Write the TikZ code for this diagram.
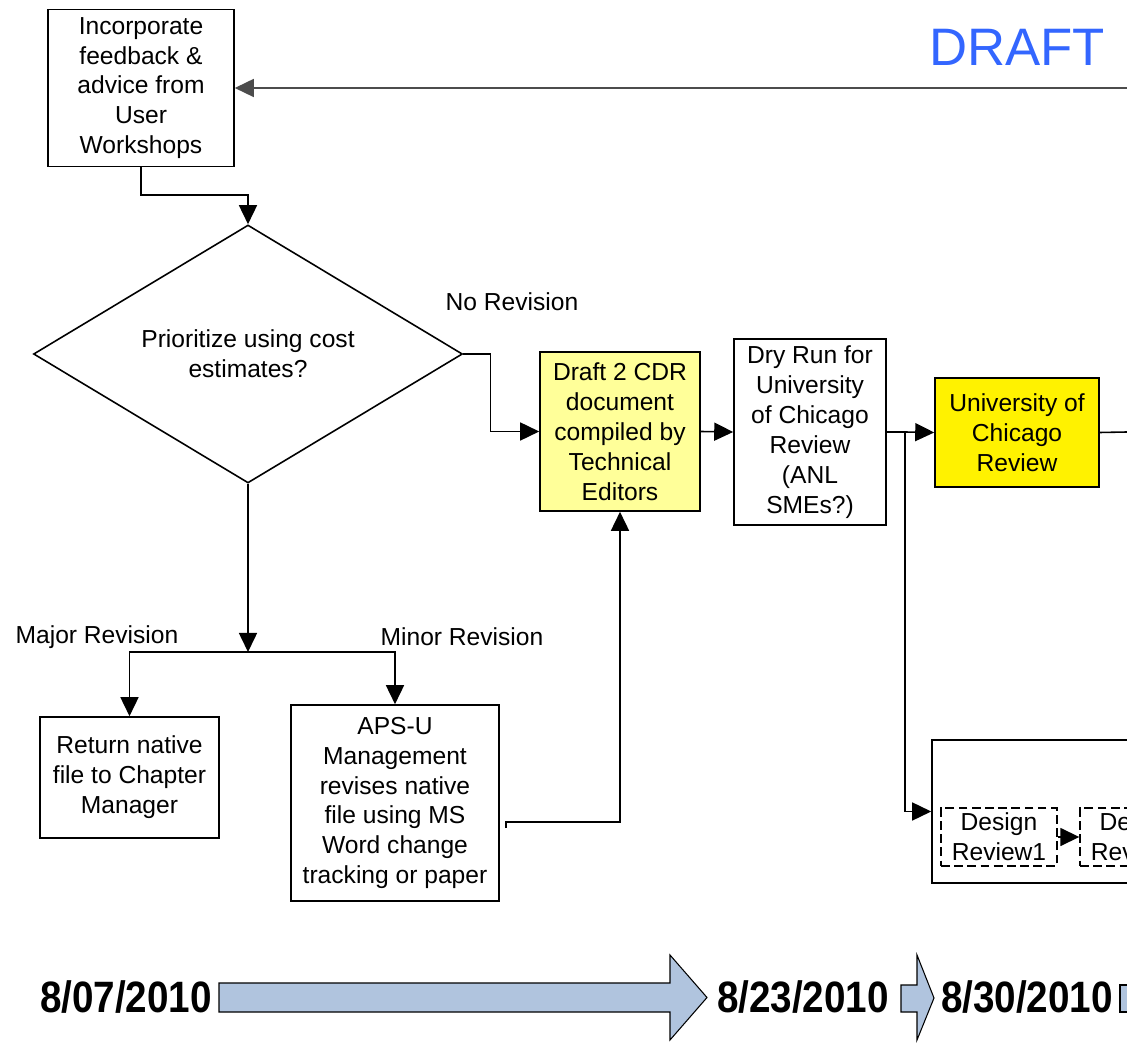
\documentclass[tikz,border=0pt]{standalone}
\usepackage{fontspec}
\setmainfont{Liberation Sans}
\usepackage{tikz}
\usetikzlibrary{arrows.meta,shapes.geometric}

\definecolor{draftblue}{HTML}{3366FF}
\definecolor{paleyellow}{HTML}{FFFF99}
\definecolor{timeblue}{HTML}{B0C4DE}

\begin{document}
\begin{tikzpicture}[x=0.2mm, y=-0.2mm, line width=0.9pt,
  flow/.style={-{Triangle[length=3.8mm,width=3.6mm]}},
  box/.style={rectangle, draw, align=center, inner sep=0pt, font=\fontsize{14}{17}\selectfont},
  lbl/.style={inner sep=0pt, font=\fontsize{14}{17}\selectfont},
  datelbl/.style={inner sep=0pt, font=\fontsize{25}{30}\selectfont\bfseries},
  tarrow/.style={draw, fill=timeblue, line width=0.6pt}]
  \useasboundingbox (0,0) rectangle (1127,1044);
  \clip (0,0) rectangle (1127,1044);

  % boxes
  \node[box, minimum width=3.72cm, minimum height=3.14cm] (feedback) at (141,88) {Incorporate\\feedback \&\\advice from\\User\\Workshops};
  \node[box, diamond, aspect=1.66, minimum width=8.58cm, minimum height=5.16cm] (prio) at (248,354) {Prioritize using cost\\estimates?};
  \node[box, fill=paleyellow, minimum width=3.2cm, minimum height=3.18cm] (draft) at (620,431.5) {Draft 2 CDR\\document\\compiled by\\Technical\\Editors};
  \node[box, minimum width=3.04cm, minimum height=3.72cm] (dryrun) at (810,432) {Dry Run for\\University\\of Chicago\\Review\\(ANL\\SMEs?)};
  \node[box, fill=yellow, minimum width=3.28cm, minimum height=2.18cm] (uchicago) at (1017,432.5) {University of\\Chicago\\Review};
  \node[box, minimum width=3.58cm, minimum height=2.42cm] (return) at (129.5,777.5) {Return native\\file to Chapter\\Manager};
  \node[box, minimum width=4.16cm, minimum height=3.92cm] (apsu) at (395,803) {APS-U\\Management\\revises native\\file using MS\\Word change\\tracking or paper};
  \node[draw, minimum width=8cm, minimum height=2.86cm] (reviews) at (1132,811.5) {};
  \node[box, dash pattern=on 5pt off 2.5pt, line width=0.8pt, minimum width=2.32cm, minimum height=1.16cm] (review1) at (999,837) {Design\\Review1};
  \node[box, dash pattern=on 5pt off 2.5pt, line width=0.8pt, minimum width=2.32cm, minimum height=1.16cm] (review2) at (1138,837) {Design\\Review2};

  % labels
  \node[inner sep=0pt, text=draftblue, font=\fontsize{30}{36}\selectfont] (draftmark) at (1017,47) {DRAFT};
  \node[lbl] (norev) at (512,302) {No Revision};
  \node[lbl] (majorrev) at (97,637) {Major Revision};
  \node[lbl] (minorrev) at (462,637) {Minor Revision};

  % connectors
  \coordinate (fromright) at (1127,88);
  \coordinate (split) at (905,432);
  \coordinate (toright) at (1127,432);
  \coordinate (fork) at (248,652);
  \draw[flow, draw=black!70] (fromright) -- (feedback.east);
  \draw[flow] (feedback.south) -- ++(0,28) -| (prio.north);
  \draw[flow] (prio.east) -- ++(27,0) |- (draft.west);
  \draw[flow] (draft.east) -- (dryrun.west);
  \draw[flow] (dryrun.east) -- (split) -- (uchicago.west);
  \draw[flow] (split) |- (reviews.west);
  \draw (uchicago.east) -- (toright);
  \draw[flow] (review1.east) -- (review2.west);
  \draw[flow] (prio.south) -- (fork);
  \draw[flow] (fork) -| (return.north);
  \draw[flow] (fork) -| (apsu.north);
  \draw[flow] ([xshift=1.2mm,yshift=-5mm]apsu.east) -- ++(0,-6) -| (draft.south);

  % timeline
  \draw[tarrow] (219,983) -- (670,983) -- (670,955) -- (707,997.5) -- (670,1040) -- (670,1012) -- (219,1012) -- cycle;
  \draw[tarrow] (901,985) -- (917,985) -- (917,955) -- (934,998) -- (917,1040) -- (917,1012) -- (901,1012) -- cycle;
  \draw[tarrow] (1120,985) -- (1150,985) -- (1150,1012) -- (1120,1012) -- cycle;
  \node[datelbl] (date1) at (126,997) {\scalebox{0.88}[1]{8/07/2010}};
  \node[datelbl] (date2) at (803,997) {\scalebox{0.88}[1]{8/23/2010}};
  \node[datelbl] (date3) at (1027,997) {\scalebox{0.88}[1]{8/30/2010}};
\end{tikzpicture}
\end{document}
